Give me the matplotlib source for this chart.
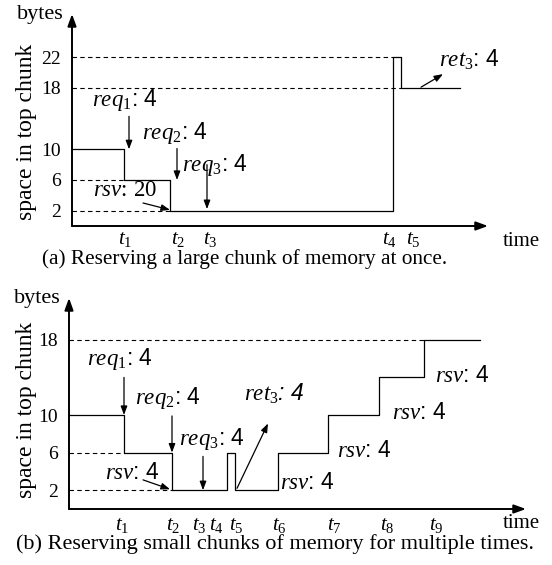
import matplotlib
matplotlib.use('Agg')
import matplotlib.pyplot as plt

plt.rcParams['font.family'] = 'Liberation Serif'
plt.rcParams['mathtext.fontset'] = 'custom'
plt.rcParams['mathtext.it'] = 'Liberation Serif:italic'
plt.rcParams['mathtext.rm'] = 'Liberation Serif'
plt.rcParams['font.size'] = 13

# (a) reserve one large chunk: step times and space left in top chunk
times_a = [0, 52, 98, 321, 329, 388]
space_a = [10, 6, 2, 22, 18, 18]
yticks_a = [2, 6, 10, 18, 22]
tnames_a = ['1', '2', '3', '4', '5']
tpos_a = [53, 106, 138, 317, 341]
dash_lev_a = [22, 18, 6, 2]
dash_end_a = [321, 329, 52, 98]

# (b) reserve small chunks several times
times_b = [0, 55, 103, 158, 166, 209, 259, 310, 355, 411]
space_b = [10, 6, 2, 6, 2, 6, 10, 14, 18, 18]
yticks_b = [2, 6, 10, 18]
tnames_b = ['1', '2', '3', '4', '5', '6', '7', '8', '9']
tpos_b = [53, 104, 130, 147, 167, 210, 265, 318, 367]
dash_lev_b = [18, 6, 2]
dash_end_b = [355, 55, 103]

W, H = 552, 565
NOTE = 16.5
fig = plt.figure(figsize=(W / 100, H / 100), dpi=100)

def label(name, n, val):
    s = r'$\mathit{%s}_{\mathit{%s}}$' % (name, n) if n else r'$\mathit{%s}$' % name
    return s + ': ' + val

def note(ax, txt, xy, fam='Liberation Sans', style='normal'):
    ax.text(xy[0], xy[1], txt, ha='center', va='center', family=fam, style=style, fontsize=NOTE)

def arrow(ax, start, end):
    ax.annotate('', xy=end, xytext=start,
                arrowprops=dict(arrowstyle='-|>,head_length=0.4,head_width=0.15',
                                lw=0.9, color='k', shrinkA=0, shrinkB=0))

def frame(ax, xmax, ymax, ticks):
    ax.set_xlim(0, xmax)
    ax.set_ylim(0, ymax)
    for s in ax.spines.values():
        s.set_visible(False)
    ax.set_xticks([])
    ax.set_yticks(ticks)
    ax.set_yticklabels([str(t) for t in ticks])
    ax.tick_params(axis='y', length=0, pad=8, labelsize=14)
    ax.patch.set_visible(False)
    ap = dict(arrowstyle='-|>,head_length=0.55,head_width=0.2', lw=1.4, color='k', shrinkA=0, shrinkB=0)
    ax.annotate('', xy=(1, 0), xytext=(0, 0), xycoords='axes fraction', arrowprops=ap)
    ax.annotate('', xy=(0, 1), xytext=(0, 0), xycoords='axes fraction', arrowprops=ap)

def tlabels(ax, pos, names, y):
    for p, n in zip(pos, names):
        ax.text(p, y, r'$\mathit{t}_{\mathit{%s}}$' % n, ha='center', va='center', fontsize=15)

""" Panel (a) """
axa = fig.add_axes([72 / W, 1 - 226 / H, 416 / W, 212 / H])
frame(axa, 416, 212 / 7.67, yticks_a)
axa.plot(times_a, space_a, drawstyle='steps-post', color='k', lw=0.9)
axa.hlines(dash_lev_a, 0, dash_end_a, colors='k', lw=0.8, linestyles=(0, (4, 3)))
tlabels(axa, tpos_a, tnames_a, -1.7)

note(axa, label('req', '1', '4'), (53, 16.4))
arrow(axa, (57, 14.3), (57, 10))
note(axa, label('req', '2', '4'), (103, 12.1))
arrow(axa, (105, 10.1), (105, 6))
note(axa, label('req', '3', '4'), (143, 7.9))
arrow(axa, (135, 8.0), (135, 2.2))
note(axa, label('rsv', '', '20'), (53, 4.6), fam='Liberation Serif')
arrow(axa, (71, 3.0), (98, 2.1))
note(axa, label('ret', '3', '4'), (397, 21.6))
arrow(axa, (349, 18.1), (371, 19.8))

fig.text(40 / W, 1 - 15 / H, 'bytes', ha='center', va='center', fontsize=16)
fig.text(27 / W, 1 - 132 / H, 'space in top chunk', rotation=90, ha='center', va='center', fontsize=17)
fig.text(521 / W, 1 - 241 / H, 'time', ha='center', va='center', fontsize=15)
fig.text(245 / W, 1 - 264 / H, '(a) Reserving a large chunk of memory at once.', ha='center', va='baseline', fontsize=15.3)

""" Panel (b) """
axb = fig.add_axes([69 / W, 1 - 509 / H, 457 / W, 211 / H])
frame(axb, 457, 211 / 9.4, yticks_b)
axb.plot(times_b, space_b, drawstyle='steps-post', color='k', lw=0.9)
axb.hlines(dash_lev_b, 0, dash_end_b, colors='k', lw=0.8, linestyles=(0, (4, 3)))
tlabels(axb, tpos_b, tnames_b, -1.75)

note(axb, label('req', '1', '4'), (51, 16.0))
arrow(axb, (55, 14.0), (55, 10))
note(axb, label('req', '2', '4'), (99, 11.8))
arrow(axb, (103, 9.9), (103, 6))
note(axb, label('req', '3', '4'), (143, 7.4))
arrow(axb, (134, 5.6), (134, 2))
note(axb, label('rsv', '', '4'), (63, 3.9))
arrow(axb, (74, 3.1), (101, 2.1))
note(axb, label('ret', '3', '4'), (205, 12.3), style='italic')
arrow(axb, (168, 2.2), (199, 9.1))
rsv_pos = [(238, 2.8), (295, 6.2), (350, 10.3), (393, 14.2)]
for xy in rsv_pos:
    note(axb, label('rsv', '', '4'), xy)

fig.text(37 / W, 1 - 298 / H, 'bytes', ha='center', va='center', fontsize=16)
fig.text(27 / W, 1 - 410 / H, 'space in top chunk', rotation=90, ha='center', va='center', fontsize=17)
fig.text(521 / W, 1 - 523 / H, 'time', ha='center', va='center', fontsize=15)
fig.text(275 / W, 1 - 549 / H, '(b) Reserving small chunks of memory for multiple times.', ha='center', va='baseline', fontsize=16)

fig.savefig('out.png', dpi=100)
